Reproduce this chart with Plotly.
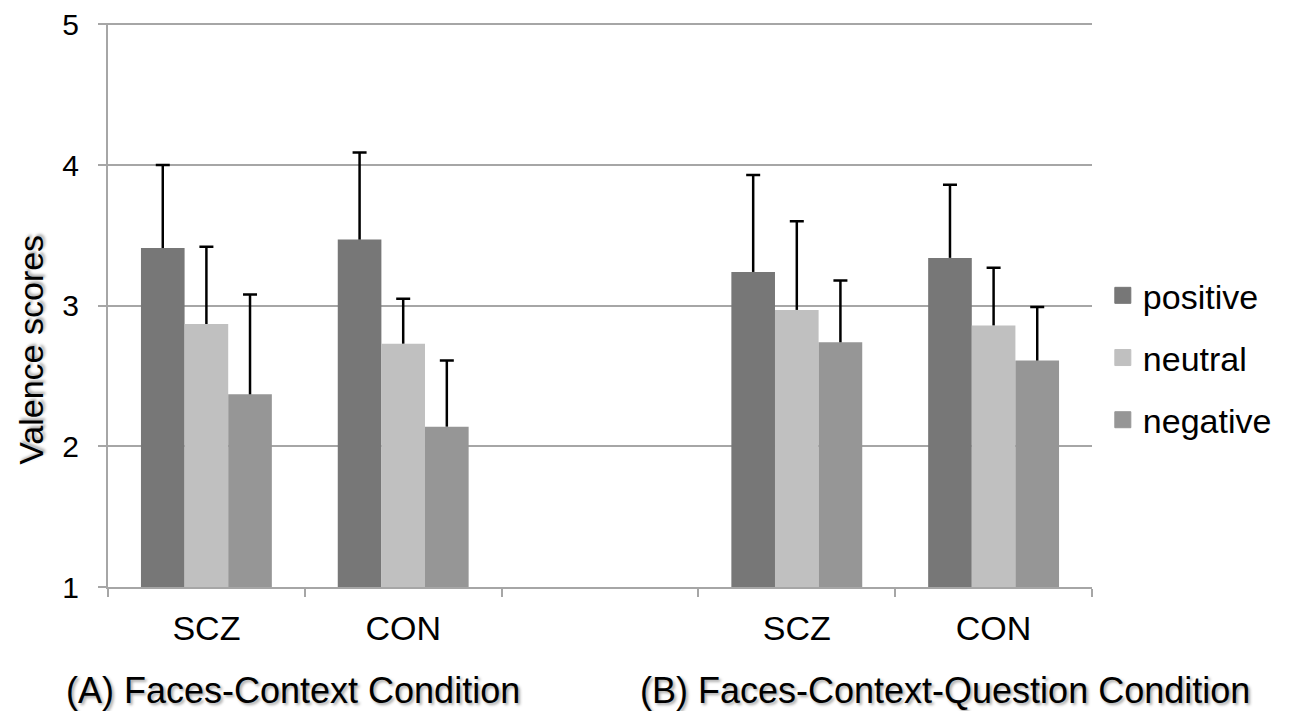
import plotly.graph_objects as go

categories = ["SCZ-A", "CON-A", "gap", "SCZ-B", "CON-B"]
tick_labels = ["SCZ", "CON", "", "SCZ", "CON"]
series_names = ["positive", "neutral", "negative"]
y_ticks = [1, 2, 3, 4, 5]

positive = [3.41, 3.47, None, 3.24, 3.34]
neutral = [2.87, 2.73, None, 2.97, 2.86]
negative = [2.37, 2.14, None, 2.74, 2.61]

positive_err = [0.59, 0.62, None, 0.69, 0.52]
neutral_err = [0.55, 0.32, None, 0.63, 0.41]
negative_err = [0.71, 0.47, None, 0.44, 0.38]

group_labels = ["(A) Faces-Context Condition", "(B) Faces-Context-Question Condition"]
y_title = "Valence scores"

colors = ["#777777", "#c0c0c0", "#969696"]
FONT = "Liberation Sans, Arial, sans-serif"
GRID = "#a6a6a6"
SHADOW = "2px 2px 3px rgba(0,0,0,0.35)"

values = [positive, neutral, negative]
errors = [positive_err, neutral_err, negative_err]

fig = go.Figure()
for name, vals, errs, col in zip(series_names, values, errors, colors):
    fig.add_trace(go.Bar(
        x=categories, y=vals, name=name, offsetgroup=name, legendgroup=name,
        showlegend=False,
        marker=dict(color=col, line=dict(width=0)),
        error_y=dict(type="data", symmetric=False, array=errs,
                     arrayminus=[0 if e is not None else None for e in errs],
                     width=0, thickness=2.5, color="black"),
    ))
# caps of the error bars (transparent bars sharing the same offset group)
for name, vals, errs in zip(series_names, values, errors):
    tops = [v + e if v is not None else None for v, e in zip(vals, errs)]
    fig.add_trace(go.Bar(
        x=categories, y=tops, offsetgroup=name, showlegend=False, hoverinfo="skip",
        marker=dict(color="rgba(0,0,0,0)", line=dict(width=0)),
        error_y=dict(type="constant", value=0, width=7, thickness=2.5, color="black"),
    ))
# legend entries with larger square swatches
for name, col in zip(series_names, colors):
    fig.add_trace(go.Scatter(
        x=[None], y=[None], mode="markers", name=name, legendgroup=name,
        marker=dict(symbol="square", size=16, color=col, line=dict(width=1, color=col)),
        hoverinfo="skip",
    ))

fig.update_layout(
    width=1287, height=703,
    margin=dict(l=100, r=203, t=15, b=124, autoexpand=False),
    paper_bgcolor="white", plot_bgcolor="white",
    barmode="group", bargap=0.335, bargroupgap=0,
    font=dict(family=FONT, color="black"),
    showlegend=True,
    legend=dict(x=1.011, xanchor="left", y=0.4065, yanchor="middle",
                font=dict(size=34, family=FONT), traceorder="grouped",
                tracegroupgap=15, itemsizing="trace", bgcolor="rgba(0,0,0,0)"),
)
fig.update_xaxes(
    type="category", categoryorder="array", categoryarray=categories,
    range=[-0.5, 4.5], tickmode="array", tickvals=categories, ticktext=tick_labels,
    tickson="boundaries", ticks="outside", ticklen=8, tickwidth=2, tickcolor=GRID,
    showline=True, linecolor=GRID, linewidth=2, showgrid=False, automargin=False,
    tickfont=dict(size=34, family=FONT), ticklabelstandoff=10,
)
fig.update_yaxes(
    range=[1, 5.01], tickmode="array", tickvals=y_ticks, ticktext=[str(t) for t in y_ticks],
    ticks="outside", ticklen=8, tickwidth=2, tickcolor=GRID,
    showline=True, linecolor=GRID, linewidth=2, automargin=False,
    showgrid=True, gridcolor=GRID, gridwidth=2, zeroline=False,
    tickfont=dict(size=30, family=FONT), ticklabelstandoff=13,
    ticklabeloverflow="allow",
)

fig.add_annotation(text=y_title, xref="paper", yref="paper", x=-0.079, y=0.421,
                   textangle=-90, showarrow=False, xanchor="center", yanchor="middle",
                   font=dict(size=34, family=FONT, color="black", shadow=SHADOW))
for label, xp in zip(group_labels, [0.188, 0.851]):
    fig.add_annotation(text=label, xref="paper", yref="paper", x=xp, y=-0.183,
                       showarrow=False, xanchor="center", yanchor="middle",
                       font=dict(size=36, family=FONT, color="black", shadow=SHADOW))

fig.write_html("out.html")
